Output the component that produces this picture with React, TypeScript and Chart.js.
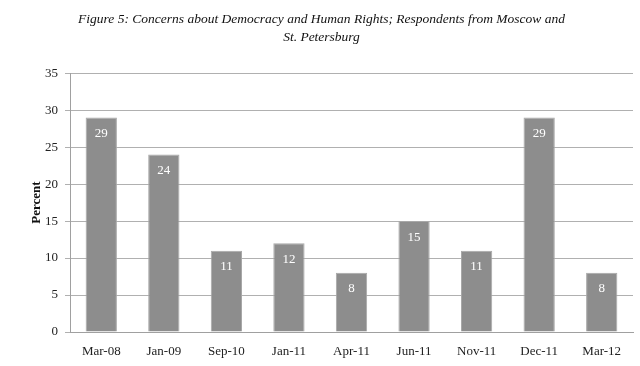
import React, { useEffect, useRef } from "react";
import { Chart, registerables } from "chart.js";

Chart.register(...registerables);

const categories = ["Mar-08", "Jan-09", "Sep-10", "Jan-11", "Apr-11", "Jun-11", "Nov-11", "Dec-11", "Mar-12"];
const percentValues = [29, 24, 11, 12, 8, 15, 11, 29, 8];
const titleLines = [
  "Figure 5: Concerns about Democracy and Human Rights; Respondents from Moscow and",
  "St. Petersburg",
];
const yAxisTitle = "Percent";

const FONT = "'Liberation Serif', 'DejaVu Serif', serif";

const barLabelPlugin = {
  id: "barLabels",
  afterDatasetsDraw(chart: any) {
    const ctx = chart.ctx;
    const meta = chart.getDatasetMeta(0);
    const ds = chart.data.datasets[0];
    ctx.save();
    ctx.fillStyle = "#ffffff";
    ctx.font = `13px ${FONT}`;
    ctx.textAlign = "center";
    ctx.textBaseline = "middle";
    meta.data.forEach((el: any, i: number) => {
      ctx.fillText(String(ds.data[i]), el.x, el.y + 16);
    });
    ctx.restore();
  },
};

export default function App() {
  const ref = useRef<HTMLCanvasElement | null>(null);
  useEffect(() => {
    document.body.style.margin = "0";
    const chart = new Chart(ref.current as HTMLCanvasElement, {
      type: "bar",
      data: {
        labels: categories,
        datasets: [
          {
            data: percentValues,
            backgroundColor: "#8d8d8d",
            borderColor: "#a8a8a8",
            borderWidth: 1,
            barPercentage: 0.5,
            categoryPercentage: 1,
          },
        ],
      },
      options: {
        animation: false,
        responsive: false,
        maintainAspectRatio: false,
        layout: { padding: { left: 10, right: 7, top: 0, bottom: 0 } },
        plugins: {
          legend: { display: false },
          tooltip: { enabled: false },
          title: {
            display: true,
            text: titleLines,
            color: "#111111",
            font: { family: FONT, size: 13.5, style: "italic", weight: "normal", lineHeight: 1.38 },
            padding: { top: 10, bottom: 26 },
          },
        },
        scales: {
          x: {
            afterFit(scale: any) {
              scale.height = 34;
            },
            grid: { display: false, drawTicks: false },
            border: { display: true, color: "#a0a0a0", width: 1 },
            ticks: { color: "#222222", font: { family: FONT, size: 13 }, padding: 12 },
          },
          y: {
            min: 0,
            max: 35,
            afterFit(scale: any) {
              scale.width = 60;
            },
            ticks: { stepSize: 5, color: "#222222", font: { family: FONT, size: 13 }, padding: 7 },
            grid: { color: "#b0b0b0", lineWidth: 1, tickLength: 5 },
            border: { display: true, color: "#a0a0a0", width: 1 },
            title: {
              display: true,
              text: yAxisTitle,
              color: "#111111",
              font: { family: FONT, size: 13, weight: "bold" },
              padding: { top: 19, bottom: 0 },
            },
          },
        },
      },
      plugins: [barLabelPlugin],
    });
    return () => chart.destroy();
  }, []);
  return (
    <div style={{ position: "relative", width: 640, height: 366 }}>
      <canvas ref={ref} width={640} height={366} style={{ width: 640, height: 366, display: "block" }} />
    </div>
  );
}
